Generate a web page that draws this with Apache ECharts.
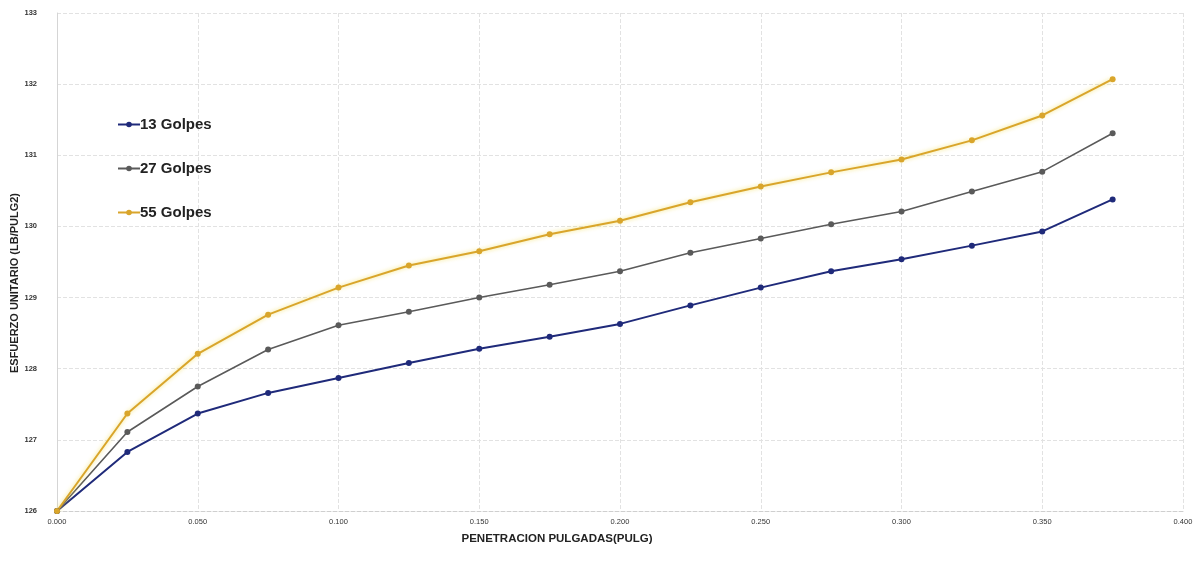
<!DOCTYPE html>
<html>
<head>
<meta charset="utf-8">
<script src="https://cdn.jsdelivr.net/npm/echarts@6/dist/echarts.min.js"></script>
<style>
html,body{margin:0;padding:0;background:#fff;}
#chart{width:1203px;height:567px;}
</style>
</head>
<body>
<div id="chart"></div>
<script>
const penetration = [0.000,0.025,0.050,0.075,0.100,0.125,0.150,0.175,0.200,0.225,0.250,0.275,0.300,0.325,0.350,0.375];
const golpes13 = [126.00,126.83,127.37,127.66,127.87,128.08,128.28,128.45,128.63,128.89,129.14,129.37,129.54,129.73,129.93,130.38];
const golpes27 = [126.00,127.11,127.75,128.27,128.61,128.80,129.00,129.18,129.37,129.63,129.83,130.03,130.21,130.49,130.77,131.31];
const golpes55 = [126.00,127.37,128.21,128.76,129.14,129.45,129.65,129.89,130.08,130.34,130.56,130.76,130.94,131.21,131.56,132.07];
const seriesNames = ['13 Golpes','27 Golpes','55 Golpes'];
const xTitle = 'PENETRACION PULGADAS(PULG)';
const yTitle = 'ESFUERZO UNITARIO (LB/PULG2)';

const pairs = arr => penetration.map((x,i)=>[x,arr[i]]);
const colors = ['#1f2a7a','#5a5a5a','#d9a52b'];
const mk = (name, data, color, shadow, w) => ({
  name, type:'line', data: pairs(data),
  symbol:'circle', symbolSize:6,
  lineStyle:{color, width:w||2, shadowColor:shadow||'transparent', shadowBlur:shadow?4:0},
  itemStyle:{color},
  z: 3
});
const chart = echarts.init(document.getElementById('chart'));
chart.setOption({
  backgroundColor:'#fff',
  animation:false,
  grid:{left:57,right:20,top:13,bottom:56,containLabel:false,outerBoundsMode:'none'},
  legend:{
    orient:'vertical', left:112, top:112, itemGap:29, itemWidth:22, itemHeight:7,
    textStyle:{fontFamily:'Liberation Sans', fontWeight:'bold', fontSize:15, color:'#222', padding:[0,0,0,-5]},
    data:seriesNames
  },
  xAxis:{
    type:'value', min:0, max:0.4, interval:0.05,
    name:xTitle, nameLocation:'middle', nameGap:22, nameMoveOverlap:false,
    nameTextStyle:{fontFamily:'Liberation Sans', fontWeight:'bold', fontSize:11.5, color:'#222', padding:[0,126,0,0]},
    axisLine:{show:true, lineStyle:{color:'#cfcfcf', type:'dashed'}},
    axisTick:{show:false},
    axisLabel:{fontSize:7.5, color:'#333', margin:7, formatter:v=>v.toFixed(3)},
    splitLine:{show:true, lineStyle:{color:'#e2e2e2', type:'dashed'}}
  },
  yAxis:{
    type:'value', min:126, max:133, interval:1,
    name:yTitle, nameLocation:'middle', nameGap:37, nameRotate:90, nameMoveOverlap:false,
    nameTextStyle:{fontFamily:'Liberation Sans', fontWeight:'bold', fontSize:11, color:'#222', padding:[0,42,0,0]},
    axisLine:{show:true, lineStyle:{color:'#d5d5d5'}},
    axisTick:{show:false},
    axisLabel:{fontSize:7.5, color:'#333', margin:20, fontWeight:'bold'},
    splitLine:{show:true, lineStyle:{color:'#e2e2e2', type:'dashed'}}
  },
  series:[
    mk(seriesNames[0], golpes13, colors[0]),
    mk(seriesNames[1], golpes27, colors[1], null, 1.6),
    mk(seriesNames[2], golpes55, colors[2], 'rgba(240,220,80,0.8)')
  ]
});
</script>
</body>
</html>
